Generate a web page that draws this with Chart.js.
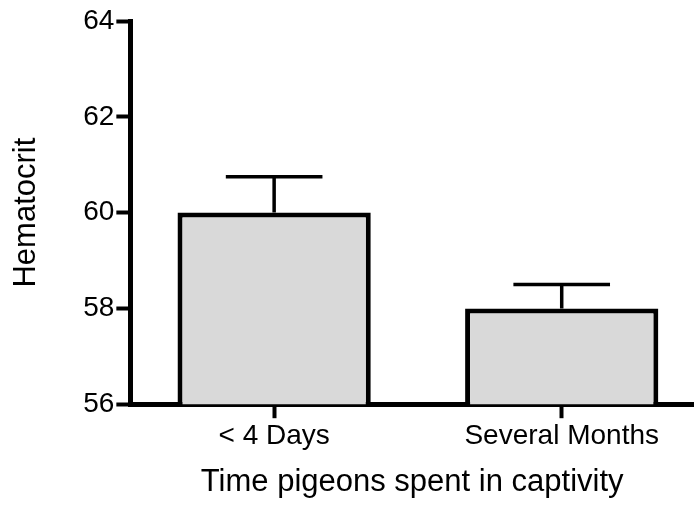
<!DOCTYPE html>
<html>
<head>
<meta charset="utf-8">
<style>
  html, body { margin: 0; padding: 0; background: #ffffff; }
  #wrap { width: 694px; height: 506px; }
</style>
<script src="https://cdn.jsdelivr.net/npm/chart.js@4/dist/chart.umd.min.js"></script>
</head>
<body>
<div id="wrap"><canvas id="chart" width="694" height="506"></canvas></div>
<script>
// Hematocrit of pigeons by time held in captivity (mean with upper error bar)
const categories = ['< 4 Days', 'Several Months'];
const hematocritMean = [60.0, 58.0];
const hematocritError = [0.75, 0.5];
const yTicks = [56, 58, 60, 62, 64];

const FONT = "'Liberation Sans', Arial, Helvetica, sans-serif";

// bars are placed on a numeric x axis at 0, 1, ... so the axis can run past the last category
const points = categories.map((c, i) => ({ x: i, y: hematocritMean[i] }));

const whiteBackground = {
  id: 'whiteBackground',
  beforeDraw(chart) {
    const ctx = chart.ctx;
    ctx.save();
    ctx.fillStyle = '#ffffff';
    ctx.fillRect(0, 0, chart.width, chart.height);
    ctx.restore();
  }
};

// upper error bars: stem from the bar top to a cap at mean + error
const errorBars = {
  id: 'errorBars',
  afterDatasetsDraw(chart) {
    const ctx = chart.ctx;
    const yScale = chart.scales.y;
    const meta = chart.getDatasetMeta(0);
    ctx.save();
    ctx.strokeStyle = '#000000';
    ctx.lineWidth = 3.5;
    ctx.lineCap = 'butt';
    meta.data.forEach((bar, i) => {
      const yTop = yScale.getPixelForValue(hematocritMean[i] + hematocritError[i]);
      const half = bar.width / 4;
      ctx.beginPath();
      ctx.moveTo(bar.x, bar.y);
      ctx.lineTo(bar.x, yTop);
      ctx.moveTo(bar.x - half, yTop);
      ctx.lineTo(bar.x + half, yTop);
      ctx.stroke();
    });
    ctx.restore();
  }
};

new Chart(document.getElementById('chart'), {
  type: 'bar',
  data: {
    datasets: [{
      data: points,
      backgroundColor: '#d9d9d9',
      borderColor: '#000000',
      borderWidth: 5,
      borderSkipped: 'bottom',
      categoryPercentage: 1,
      barPercentage: 0.672
    }]
  },
  options: {
    responsive: false,
    animation: false,
    devicePixelRatio: 1,
    layout: { padding: { top: 21, right: 0, bottom: 0, left: 0 } },
    plugins: {
      legend: { display: false },
      tooltip: { enabled: false },
      title: { display: false }
    },
    scales: {
      x: {
        type: 'linear',
        min: -0.5,
        max: 1.46,
        offset: false,
        afterBuildTicks(scale) {
          scale.ticks = categories.map((c, i) => ({ value: i }));
        },
        ticks: {
          color: '#000000',
          font: { family: FONT, size: 28 },
          padding: 1,
          maxRotation: 0,
          autoSkip: false,
          callback: (v) => categories[v]
        },
        grid: {
          offset: false,
          drawOnChartArea: false,
          drawTicks: true,
          tickLength: 14,
          tickWidth: 4,
          tickColor: '#000000'
        },
        border: { display: true, width: 5, color: '#000000' },
        title: {
          display: true,
          text: 'Time pigeons spent in captivity',
          color: '#000000',
          font: { family: FONT, size: 31 },
          padding: { top: 10, bottom: 5 }
        }
      },
      y: {
        min: yTicks[0],
        max: yTicks[yTicks.length - 1],
        afterBuildTicks(scale) {
          scale.ticks = yTicks.map(v => ({ value: v }));
        },
        ticks: {
          color: '#000000',
          font: { family: FONT, size: 28 },
          padding: 2
        },
        grid: {
          drawOnChartArea: false,
          drawTicks: true,
          tickLength: 14,
          tickWidth: 4,
          tickColor: '#000000'
        },
        border: { display: true, width: 5, color: '#000000' },
        title: {
          display: true,
          text: 'Hematocrit',
          color: '#000000',
          font: { family: FONT, size: 31 },
          padding: { top: 8, bottom: 36 }
        }
      }
    }
  },
  plugins: [whiteBackground, errorBars]
});
</script>
</body>
</html>
